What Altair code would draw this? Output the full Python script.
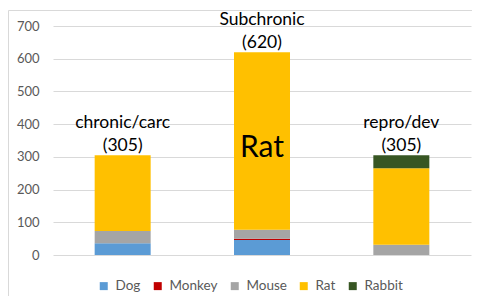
import altair as alt
import pandas as pd

categories = ["chronic/carc", "Subchronic", "repro/dev"]
species = ["Dog", "Monkey", "Mouse", "Rat", "Rabbit"]
colors = ["#5B9BD5", "#C00000", "#A5A5A5", "#FFC000", "#375623"]

dog = [36, 46, 0]
monkey = [0, 4, 0]
mouse = [37, 27, 31]
rat = [232, 543, 234]
rabbit = [0, 0, 40]

totals = [305, 620, 305]
label_top = ["chronic/carc", "Subchronic", "repro/dev"]
label_bottom = ["(305)", "(620)", "(305)"]

annot_cat = ["Subchronic"]
annot_text = ["Rat"]
annot_y = [327]

y_ticks = [0, 100, 200, 300, 400, 500, 600, 700]

FONT = "Lato"

rows = []
series = {"Dog": dog, "Monkey": monkey, "Mouse": mouse, "Rat": rat, "Rabbit": rabbit}
for i, c in enumerate(categories):
    for k, s in enumerate(species):
        rows.append({"cat": c, "species": s, "value": series[s][i], "ord": k})
df = pd.DataFrame(rows)

lab = pd.DataFrame({"cat": categories, "total": totals, "top": label_top, "bottom": label_bottom})
ann = pd.DataFrame({"cat": annot_cat, "text": annot_text, "y": annot_y})

xenc = alt.X("cat:N", sort=categories, axis=None,
             scale=alt.Scale(paddingInner=0, paddingOuter=0))

yaxis = alt.Axis(values=y_ticks, title=None,
                 grid=True, gridColor="#D9D9D9", domain=False, ticks=False,
                 labelColor="#595959", labelFontSize=13, labelFont=FONT,
                 labelPadding=14, labelOverlap=False)
yscale = alt.Scale(domain=[0, 700], nice=False)

bars = alt.Chart(df).mark_bar(size=56).encode(
    x=xenc,
    y=alt.Y("value:Q", stack="zero", scale=yscale, axis=yaxis),
    color=alt.Color("species:N", sort=species,
                    scale=alt.Scale(domain=species, range=colors),
                    legend=alt.Legend(orient="none", direction="horizontal", title=None,
                                      legendX=44, legendY=253, symbolType="square",
                                      symbolSize=64, symbolStrokeWidth=0,
                                      labelFontSize=13.5, labelFont=FONT,
                                      labelColor="#595959", labelOffset=5,
                                      columnPadding=10)),
    order=alt.Order("ord:Q", sort="ascending"),
)

labels_bottom = alt.Chart(lab).mark_text(fontSize=17.5, font=FONT, baseline="bottom",
                                         dy=0, color="#000000").encode(
    x=xenc, y=alt.Y("total:Q", scale=yscale, axis=yaxis), text="bottom:N")
labels_top = alt.Chart(lab).mark_text(fontSize=17.5, font=FONT, baseline="bottom",
                                      dy=-23, color="#000000").encode(
    x=xenc, y=alt.Y("total:Q", scale=yscale, axis=yaxis), text="top:N")

annot = alt.Chart(ann).mark_text(fontSize=30, font=FONT, baseline="middle",
                                 color="#000000").encode(
    x=xenc, y=alt.Y("y:Q", scale=yscale, axis=yaxis), text="text:N")

edge = pd.DataFrame({"a": [0]})
left_rule = alt.Chart(edge).mark_rule(color="#D9D9D9", strokeWidth=1).encode(
    x=alt.value(-44.5), y=alt.value(-15.5), y2=alt.value(300))
top_rule = alt.Chart(edge).mark_rule(color="#D9D9D9", strokeWidth=1).encode(
    x=alt.value(-44.5), x2=alt.value(440), y=alt.value(-15.5))

chart = alt.layer(bars, left_rule, top_rule, labels_bottom, labels_top, annot).properties(
    width=418, height=229,
    padding={"left": 45, "top": 18, "right": 1, "bottom": 41},
    autosize=alt.AutoSizeParams(type="none"),
    background="white",
).configure_view(stroke=None)

chart.save("out.html", embed_options={"renderer": "svg", "actions": False})
